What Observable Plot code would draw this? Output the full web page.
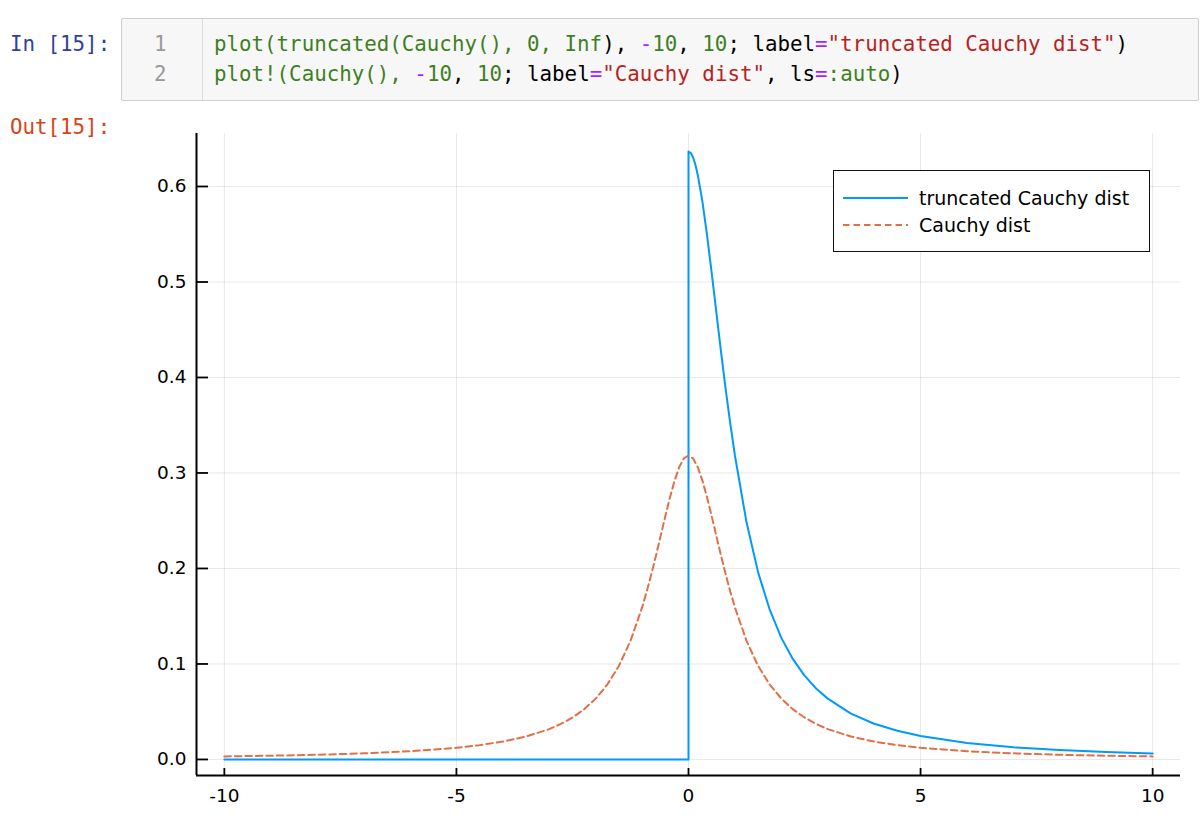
<!DOCTYPE html>
<html>
<head>
<meta charset="utf-8">
<script src="https://cdn.jsdelivr.net/npm/d3@7"></script>
<script src="https://cdn.jsdelivr.net/npm/@observablehq/plot@0.6"></script>
<style>
  html, body { margin: 0; padding: 0; background: #fff; overflow: hidden; width: 1200px; height: 832px; }
  .mono { font-family: "DejaVu Sans Mono", monospace; font-size: 20.8px; white-space: pre; position: absolute; line-height: 30px; }
  .prompt-in { color: #303f9f; }
  .prompt-out { color: #d84315; }
  #cell { position: absolute; left: 121px; top: 18px; width: 1078px; height: 83px; background: #f7f7f7; border: 1px solid #cfcfcf; border-radius: 2px; box-sizing: border-box; }
  #gutter { position: absolute; left: 0; top: 0; width: 81px; height: 100%; border-right: 1px solid #dddddd; box-sizing: border-box; }
  .ln { color: #999; }
  .g { color: #3f7f1f; }
  .p { color: #aa22ff; }
  .s { color: #ba2121; }
  .k { color: #000; }
  #plot { position: absolute; left: 0; top: 110px; }
  #legend { position: absolute; left: 833px; top: 170px; width: 317px; height: 82px; border: 1.6px solid #111; box-sizing: border-box; background: #fff; }
  #legend svg { position: absolute; left: 0; top: 0; }
</style>
</head>
<body>
<div class="mono prompt-in" style="left:10px; top:29px;">In [15]:</div>
<div id="cell">
  <div id="gutter"></div>
</div>
<div class="mono ln" style="left:154px; top:29px;">1</div>
<div class="mono ln" style="left:154px; top:59px;">2</div>
<div class="mono k" style="left:214px; top:29px;"><span class="g">plot(truncated(Cauchy(), 0, Inf</span>), <span class="p">-</span><span class="g">10</span>, <span class="g">10</span>; label<span class="p">=</span><span class="s">"truncated Cauchy dist"</span>)</div>
<div class="mono k" style="left:214px; top:59px;"><span class="g">plot!(Cauchy(), </span><span class="p">-</span><span class="g">10</span>, <span class="g">10</span>; label<span class="p">=</span><span class="s">"Cauchy dist"</span>, ls<span class="p">=</span><span class="g">:auto</span>)</div>
<div class="mono prompt-out" style="left:10px; top:112px;">Out[15]:</div>
<div id="plot"></div>
<div id="legend"></div>
<script>
// ---- data ----
const seriesNames = ["truncated Cauchy dist", "Cauchy dist"];
const seriesColors = ["#009af9", "#e26f46"];

const truncX = [-10, -5, 0, 0, 0.05, 0.1, 0.15, 0.2, 0.3, 0.4, 0.5, 0.6, 0.7, 0.8, 0.9, 1.0, 1.25, 1.5, 1.75, 2.0, 2.25, 2.5, 2.75, 3.0, 3.5, 4.0, 4.5, 5, 6, 7, 8, 9, 10];
const truncY = [0, 0, 0, 0.6366, 0.6350, 0.6303, 0.6226, 0.6121, 0.5841, 0.5488, 0.5093, 0.4681, 0.4272, 0.3882, 0.3518, 0.3183, 0.2483, 0.1959, 0.1568, 0.1273, 0.1050, 0.0878, 0.0743, 0.0637, 0.0480, 0.0374, 0.0300, 0.0245, 0.0172, 0.0127, 0.0098, 0.0078, 0.0063];

const cauchyX = [-10, -9, -8, -7, -6, -5, -4.5, -4, -3.5, -3, -2.75, -2.5, -2.25, -2, -1.75, -1.5, -1.25, -1, -0.9, -0.8, -0.7, -0.6, -0.5, -0.4, -0.3, -0.2, -0.1, 0, 0.1, 0.2, 0.3, 0.4, 0.5, 0.6, 0.7, 0.8, 0.9, 1, 1.25, 1.5, 1.75, 2, 2.25, 2.5, 2.75, 3, 3.5, 4, 4.5, 5, 6, 7, 8, 9, 10];
const cauchyY = [0.0032, 0.0039, 0.0049, 0.0064, 0.0086, 0.0122, 0.0150, 0.0187, 0.0240, 0.0318, 0.0372, 0.0439, 0.0525, 0.0637, 0.0784, 0.0979, 0.1242, 0.1592, 0.1759, 0.1941, 0.2136, 0.2341, 0.2546, 0.2744, 0.2920, 0.3061, 0.3152, 0.3183, 0.3152, 0.3061, 0.2920, 0.2744, 0.2546, 0.2341, 0.2136, 0.1941, 0.1759, 0.1592, 0.1242, 0.0979, 0.0784, 0.0637, 0.0525, 0.0439, 0.0372, 0.0318, 0.0240, 0.0187, 0.0150, 0.0122, 0.0086, 0.0064, 0.0049, 0.0039, 0.0032];

const xTicks = [-10, -5, 0, 5, 10];
const yTicks = [0.0, 0.1, 0.2, 0.3, 0.4, 0.5, 0.6];
const xDomain = [-10.6, 10.6];
const yDomain = [-0.0168, 0.6555];

const trunc = truncX.map((x, i) => ({x, y: truncY[i]}));
const cauchy = cauchyX.map((x, i) => ({x, y: cauchyY[i]}));

const W = 1200, H = 722, mL = 196, mR = 20, mT = 23, mB = 57;
const innerW = W - mL - mR, innerH = H - mT - mB;

const chart = Plot.plot({
  width: W,
  height: H,
  marginLeft: mL,
  marginRight: mR,
  marginTop: mT,
  marginBottom: mB,
  style: { fontFamily: "DejaVu Sans, sans-serif", fontSize: "18px", color: "#000", background: "transparent" },
  x: { domain: xDomain },
  y: { domain: yDomain },
  marks: [
    Plot.gridX(xTicks, { stroke: "#000", strokeOpacity: 0.09, strokeWidth: 1 }),
    Plot.gridY(yTicks, { stroke: "#000", strokeOpacity: 0.09, strokeWidth: 1 }),
    Plot.line(trunc, { x: "x", y: "y", stroke: seriesColors[0], strokeWidth: 2 }),
    Plot.line(cauchy, { x: "x", y: "y", stroke: seriesColors[1], strokeWidth: 2, strokeDasharray: "6.5,4" }),
    // axis lines
    Plot.ruleX([xDomain[0]], { stroke: "#000", strokeWidth: 2 }),
    Plot.ruleY([yDomain[0]], { stroke: "#000", strokeWidth: 2 }),
    // inward tick marks
    Plot.ruleX(xTicks, { stroke: "#000", strokeWidth: 1.8, insetTop: innerH - 7 }),
    Plot.ruleY(yTicks, { stroke: "#000", strokeWidth: 1.8, insetRight: innerW - 12 }),
    // tick labels
    Plot.axisX(xTicks, { tickSize: 0, tickPadding: 13, tickFormat: d => String(d), fontSize: 18.5, label: null }),
    Plot.axisY(yTicks, { tickSize: 0, tickPadding: 10, tickFormat: d3.format(".1f"), fontSize: 18.5, label: null })
  ]
});
document.getElementById("plot").appendChild(chart);

// legend
const lg = d3.select("#legend").append("svg").attr("width", 317).attr("height", 82);
seriesNames.forEach((name, i) => {
  const y = 27 + i * 27;
  lg.append("line").attr("x1", 9).attr("x2", 74).attr("y1", y).attr("y2", y)
    .attr("stroke", seriesColors[i]).attr("stroke-width", 1.8)
    .attr("stroke-dasharray", i === 1 ? "6.5,4" : null);
  lg.append("text").attr("x", 85).attr("y", y + 7).text(name)
    .attr("font-family", "DejaVu Sans, sans-serif").attr("font-size", 19).attr("fill", "#000");
});
</script>
</body>
</html>
